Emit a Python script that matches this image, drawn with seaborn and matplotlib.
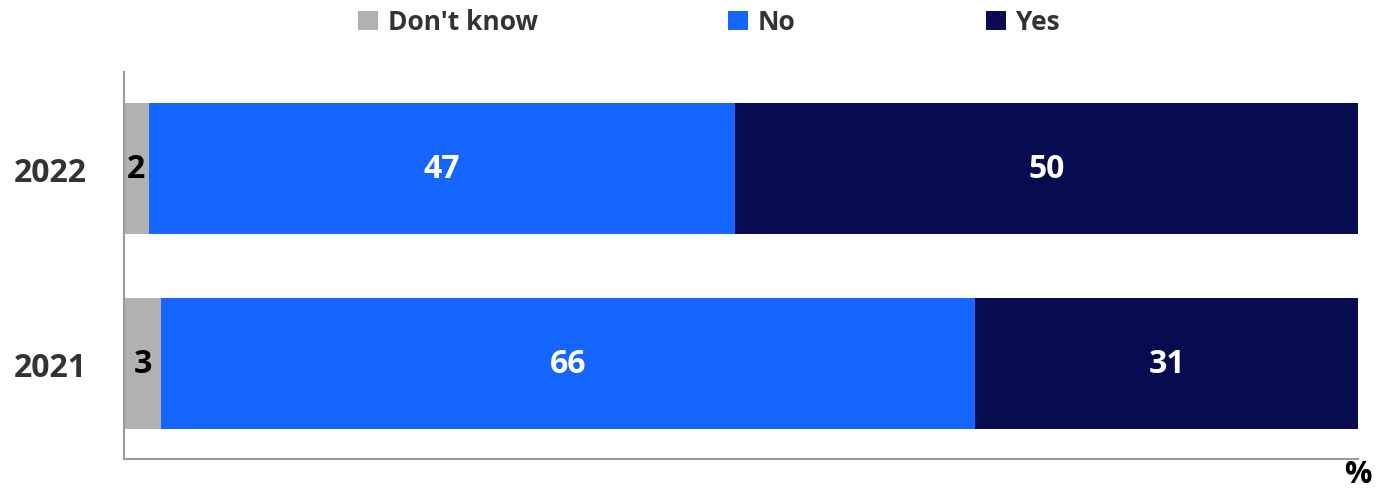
import numpy as np
import pandas as pd
import matplotlib
matplotlib.use("Agg")
import matplotlib.pyplot as plt
from matplotlib.patches import Patch
import seaborn as sns

years = ["2022", "2021"]
dont_know = [2, 3]
no = [47, 66]
yes = [50, 31]

series_names = ["Don't know", "No", "Yes"]
colors = ["#b1b1b1", "#1565ff", "#070b4f"]
label_colors = ["#000000", "#ffffff", "#ffffff"]

sns.set_theme(style="white")
plt.rcParams["font.family"] = ["Open Sans", "DejaVu Sans"]
plt.rcParams["font.weight"] = "bold"

values = np.array([dont_know, no, yes], dtype=float)  # series x years
shares = values / values.sum(axis=0) * 100.0
cum = np.cumsum(shares, axis=0)

fig = plt.figure(figsize=(13.79, 4.89), dpi=100)
ax = fig.add_axes([0.0899, 0.0593, 0.8949, 0.7914])

# Stacked bars: draw cumulative totals from the widest down so each segment shows
for i in reversed(range(len(series_names))):
    df = pd.DataFrame({"year": years, "value": cum[i]})
    sns.barplot(data=df, x="value", y="year", orient="h", color=colors[i],
                width=0.672, saturation=1, ax=ax, edgecolor="none", linewidth=0)

# Segment labels at the middle of each segment
for i in range(len(series_names)):
    starts = cum[i] - shares[i]
    for j, yr in enumerate(years):
        ax.text(starts[j] + shares[i][j] / 2, j, f"{int(values[i][j])}",
                ha="center", va="center", fontsize=23, fontweight="bold",
                color=label_colors[i])

ax.set_xlim(0, 100)
ax.set_ylim(1.49, -0.495)
ax.set_xlabel("")
ax.set_ylabel("")
ax.set_xticks([])
ax.tick_params(axis="y", length=0, pad=27, labelsize=23, labelcolor="#333333")
for lab in ax.get_yticklabels():
    lab.set_fontweight("bold")

for side in ["top", "right"]:
    ax.spines[side].set_visible(False)
for side in ["left", "bottom"]:
    ax.spines[side].set_color("#9a9a9a")
    ax.spines[side].set_linewidth(1.5)

handles = [Patch(facecolor=c, edgecolor="none", label=n) for c, n in zip(colors, series_names)]
leg = fig.legend(handles=handles, loc="center", bbox_to_anchor=(0.514, 0.953), ncol=3,
                 frameon=False, fontsize=19, handlelength=0.75, handleheight=0.75,
                 handletextpad=0.38, columnspacing=7.2, borderaxespad=0)
for t in leg.get_texts():
    t.set_color("#333333")
    t.set_fontweight("bold")

fig.text(0.9845, 0.029, "%", ha="center", va="center", fontsize=22,
         fontweight="bold", color="#000000")

fig.savefig("out.png", dpi=100)
